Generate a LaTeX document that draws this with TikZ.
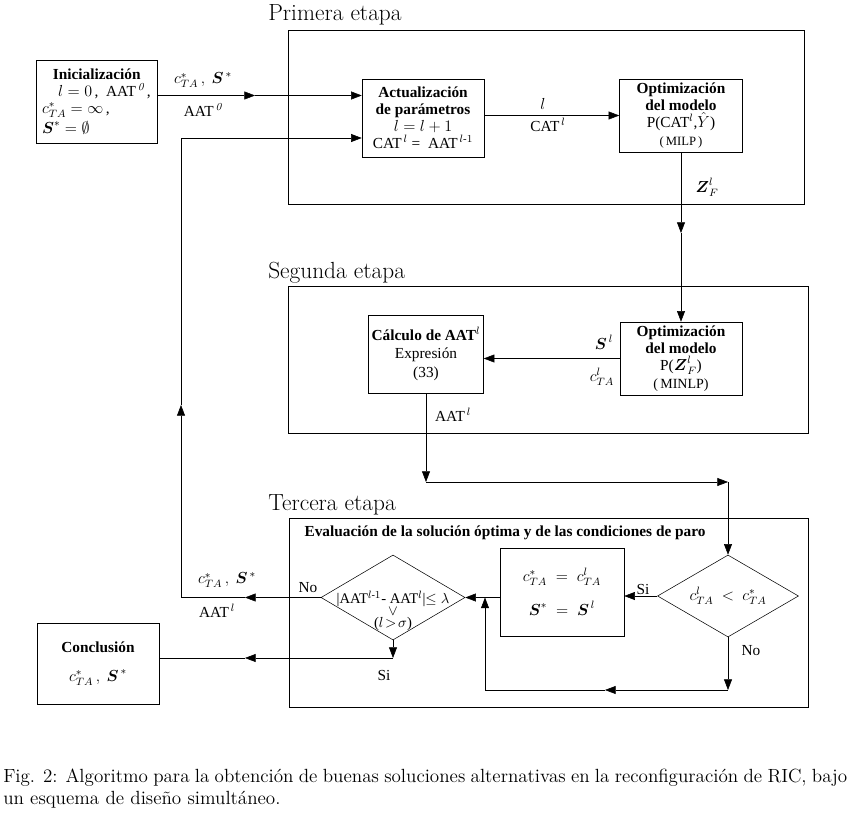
\documentclass[tikz,border=0pt]{standalone}
\usepackage{amsmath, amssymb}
\usepackage{fontspec}
\newfontfamily\tms{Liberation Serif}
\usepackage{tikz}
\usetikzlibrary{arrows.meta, positioning, shapes.geometric, calc}

\tikzset{
  arr/.style={-{Triangle[length=8pt,width=6pt]}},
  blockbox/.style={draw, rectangle, align=center, inner sep=2pt,
    font=\tms\fontsize{11.5}{12.75}\selectfont},
  stagebox/.style={draw, rectangle, anchor=north west, inner sep=0pt},
  decision/.style={draw, diamond, inner sep=0pt},
  lbl/.style={font=\tms\fontsize{11.5}{13}\selectfont, inner sep=1pt},
  stagetitle/.style={anchor=base west, inner sep=0pt, font=\fontsize{17.5}{20}\selectfont},
}

\begin{document}
\begin{tikzpicture}[x=0.75pt,y=-0.75pt]
\useasboundingbox (0,0) rectangle (847,817);

% etapas
\node[stagebox, minimum width=387pt, minimum height=130.5pt] (stage1) at (288,30) {};
\node[stagebox, minimum width=390pt, minimum height=110.25pt] (stage2) at (288,286) {};
\node[stagebox, minimum width=389.25pt, minimum height=141.75pt] (stage3) at (289,518) {};
\node[stagetitle] (title1) at (268,21) {Primera etapa};
\node[stagetitle] (title2) at (268,278) {Segunda etapa};
\node[stagetitle] (title3) at (268,510) {Tercera etapa};

% bloques
\node[blockbox, align=left, minimum width=90.75pt, minimum height=62.25pt] (init) at (96.5,101.5)
  {\hspace*{8pt}\textbf{Inicialización}\\
   \hspace*{12pt}$l=0$\,,\ \ AAT$^{\,\mathit{0}}$\,,\\
   $c^{*}_{TA}=\infty$\,,\\[2pt]
   $\boldsymbol{S}^{*}=\emptyset$};
\node[blockbox, minimum width=91.5pt, minimum height=58.5pt] (act) at (423,118)
  {\textbf{Actualización}\\ \textbf{de parámetros}\\ $l=l+1$\\
   CAT$^{\,l}$ =\ \ AAT$^{\,l\text{-}1}$};
\node[blockbox, minimum width=92.25pt, minimum height=54.75pt] (opt1) at (681,115.5)
  {\textbf{Optimización}\\ \textbf{del modelo}\\ P(CAT$^{l}$,$\hat{Y}$)\\[1pt]
   {\fontsize{9.5}{11}\selectfont(\,MILP\,)}};
\node[blockbox, minimum width=91.5pt, minimum height=54.75pt] (opt2) at (681,358.5)
  {\textbf{Optimización}\\ \textbf{del modelo}\\ P($\boldsymbol{Z}^{l}_{F}$)\\[1pt]
   {\fontsize{10.5}{12}\selectfont(\,MINLP)}};
\node[blockbox, minimum width=86.25pt, minimum height=58.5pt] (calc) at (426,354)
  {\textbf{Cálculo de AAT$^{l}$}\\[1pt] Expresión\\[1pt] (33)};
\node[blockbox, minimum width=93pt, minimum height=66pt] (star) at (562,592)
  {$c^{*}_{TA}\;=\;c^{l}_{TA}$\\[11pt] $\boldsymbol{S}^{*}\;=\;\boldsymbol{S}^{\,l}$};
\node[blockbox, minimum width=91.5pt, minimum height=60.75pt] (concl) at (98,663.5)
  {\textbf{Conclusión}\\[9pt] $c^{*}_{TA}\,,\ \boldsymbol{S}^{\,*}$};

% decisiones
\node[decision, minimum width=105.75pt, minimum height=61.5pt,
  label={[lbl]center:$c^{l}_{TA}\ <\ c^{*}_{TA}$}] (check) at (728,596) {};
\node[decision, minimum width=108pt, minimum height=63.75pt,
  label={[lbl, align=center, yshift=-10pt, font=\tms\fontsize{11}{12}\selectfont]center:{|AAT$^{l\text{-}1}$- AAT$^{l}$|$\leq\lambda$\\[-3pt] $\vee$\\[-3pt] ($l\!>\!\sigma$)}}] (cond) at (393,597.5) {};

\node[lbl, anchor=west, font=\tms\bfseries\fontsize{11.5}{13}\selectfont] (evaltxt) at (303,533)
  {Evaluación de la solución óptima y de las condiciones de paro};

% puntos de paso
\coordinate (t1) at (255,95.5);
\coordinate (t2) at (255,138);
\coordinate (fbt) at (181,138);
\coordinate (up1) at (181,405);
\coordinate (fbc) at (181,597.5);
\coordinate (n1) at (245,597.5);
\coordinate (d1) at (681,233);
\coordinate (c1) at (426,482);
\coordinate (c2) at (728,482);
\coordinate (b1) at (728,690);
\coordinate (b2) at (605,690);
\coordinate (b3) at (485,690);
\coordinate (s1) at (393,658);
\coordinate (s2) at (245,658);

% conectores
\draw[arr] (init.east |- t1) -- (t1);
\draw[arr] (t1) -- (act.west |- t1);
\draw[arr] (t2) -- (act.west |- t2);
\draw[arr] (act.east |- opt1.west) -- (opt1.west);
\draw[arr] (opt1.south) -- (d1);
\draw[arr] (d1) -- (opt2.north);
\draw[arr] (opt2.west) -- (opt2.west -| calc.east);
\draw[arr] (calc.south) -- (c1);
\draw[arr] (c1) -- (c2);
\draw[arr] (c2) -- (check.north);
\draw[arr] (check.west) -- (check.west -| star.east);
\draw[arr] (star.west |- cond.east) -- (cond.east);
\draw[arr] (check.south) -- (b1);
\draw[arr] (b1) -- (b2);
\draw (b2) -- (b3);
\draw[arr] (b3) -- (b3 |- cond.east);
\draw[arr] (cond.west) -- (n1);
\draw (n1) -- (fbc);
\draw[arr] (fbc) -- (up1);
\draw (up1) -- (fbt) -- (t2);
\draw[arr] (cond.south) -- (s1);
\draw[arr] (s1) -- (s2);
\draw (s2) -- (s2 -| concl.east);

% etiquetas
\node[lbl] (lb1) at (203,80) {$c^{*}_{TA}\,,\ \boldsymbol{S}^{\,*}$};
\node[lbl] (lb2) at (203,110) {AAT$^{\,\mathit{0}}$};
\node[lbl] (lb3) at (543,104) {$l$};
\node[lbl] (lb4) at (548,125) {CAT$^{\,l}$};
\node[lbl] (lb5) at (707,187) {$\boldsymbol{Z}^{l}_{F}$};
\node[lbl] (lb6) at (604,342) {$\boldsymbol{S}^{\,l}$};
\node[lbl] (lb7) at (602,377) {$c^{l}_{TA}$};
\node[lbl] (lb8) at (453,415) {AAT$^{\,l}$};
\node[lbl] (lb9) at (643,589) {Si};
\node[lbl] (lb10) at (751,651) {No};
\node[lbl] (lb11) at (308,588) {No};
\node[lbl] (lb12) at (227,580) {$c^{*}_{TA}\,,\ \boldsymbol{S}^{\,*}$};
\node[lbl] (lb13) at (217,611) {AAT$^{\,l}$};
\node[lbl] (lb14) at (384,675) {Si};

% pie
\node[anchor=north west, text width=633pt, align=justify, inner sep=0pt,
  font=\fontsize{14.3}{16.5}\selectfont] (caption) at (3,769)
  {Fig. 2: Algoritmo para la obtención de buenas soluciones alternativas en la reconfiguración de RIC, bajo un esquema de diseño simultáneo.};
\end{tikzpicture}
\end{document}
